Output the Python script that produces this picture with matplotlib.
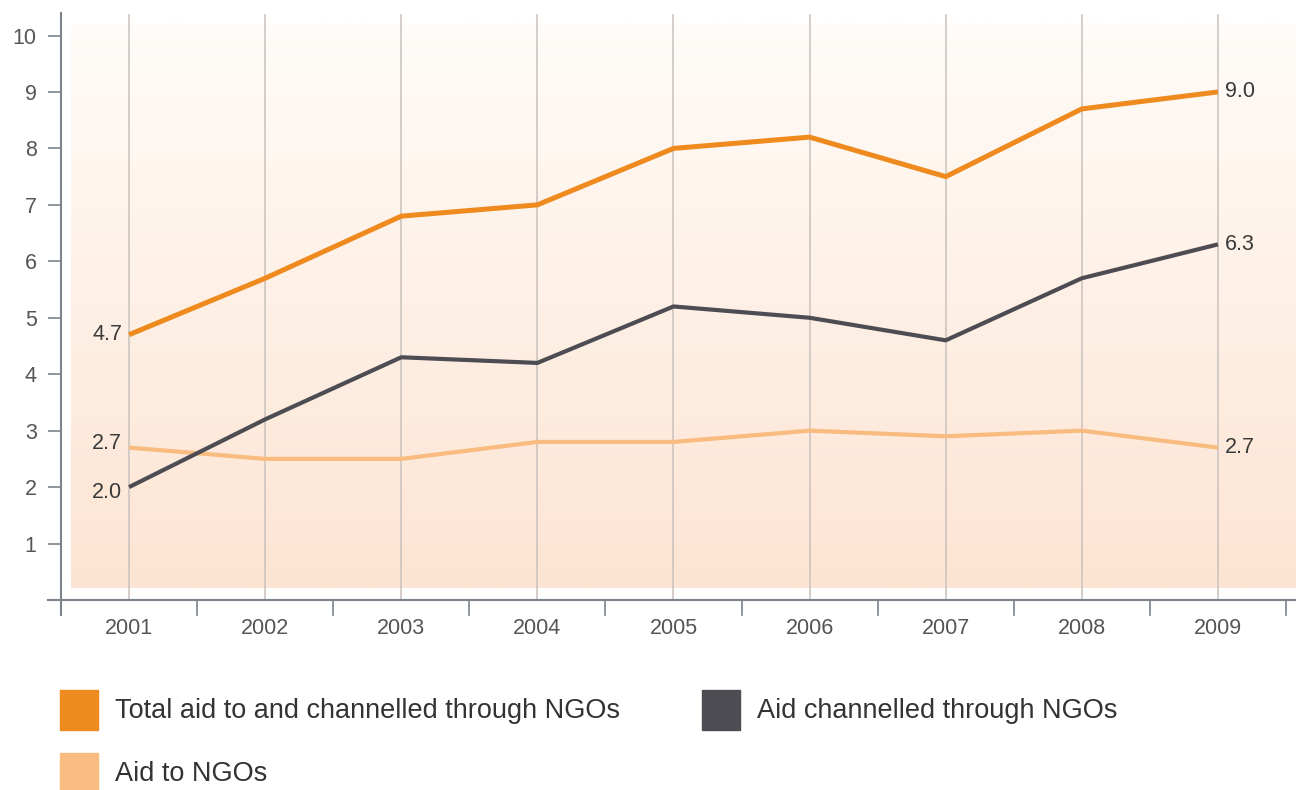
import numpy as np
import matplotlib.pyplot as plt
from matplotlib.patches import Rectangle

plt.rcParams["font.family"] = ["Liberation Sans", "DejaVu Sans"]

# ── Data ──────────────────────────────────────────────────────────────────────
years = [2001, 2002, 2003, 2004, 2005, 2006, 2007, 2008, 2009]
total_aid = [4.7, 5.7, 6.8, 7.0, 8.0, 8.2, 7.5, 8.7, 9.0]
channelled = [2.0, 3.2, 4.3, 4.2, 5.2, 5.0, 4.6, 5.7, 6.3]
aid_to_ngos = [2.7, 2.5, 2.5, 2.8, 2.8, 3.0, 2.9, 3.0, 2.7]
y_ticks = [1, 2, 3, 4, 5, 6, 7, 8, 9, 10]
series_names = ["Total aid to and channelled through NGOs",
                "Aid channelled through NGOs",
                "Aid to NGOs"]

C_TOTAL = "#ee8a1e"
C_CHAN = "#4d4c52"
C_AID = "#f8bb80"
C_AXIS = "#7b838c"
C_GRID = "#cdc5c0"
C_TEXT = "#3a3a3a"

W, H = 1296, 790
fig = plt.figure(figsize=(W / 100, H / 100), dpi=100)
ax = fig.add_axes([61 / W, (H - 600) / H, (W - 61) / W, (600 - 10) / H])

x0, x1 = 2000.5, 2001 + (W - 130) / 136
ylo, yhi = 0, 599.5 / 56.4 - 10 / 56.4
ax.set_xlim(x0, x1)
ax.set_ylim(ylo, yhi)

# gradient background
grad = np.linspace(0, 1, 256).reshape(-1, 1)
top = np.array([255, 252, 249]) / 255
bot = np.array([253, 228, 210]) / 255
img = top + (bot - top) * grad[..., None]
ax.imshow(img, extent=[2000.57, x1, 0.22, 10.22], aspect="auto",
          origin="upper", zorder=0)

# vertical grid lines
for yr in years:
    ax.plot([yr, yr], [0, 10.36], color=C_GRID, lw=1.2, zorder=1)

# ── Lines ─────────────────────────────────────────────────────────────────────
ax.plot(years, aid_to_ngos, color=C_AID, lw=3.0, zorder=3, solid_capstyle="butt")
ax.plot(years, channelled, color=C_CHAN, lw=3.0, zorder=4, solid_capstyle="butt")
ax.plot(years, total_aid, color=C_TOTAL, lw=3.6, zorder=5, solid_capstyle="butt")

# end labels
fs = 15.5
ax.text(years[0] - 0.05, total_aid[0], f"{total_aid[0]:.1f}", ha="right",
        va="center", fontsize=fs, color=C_TEXT)
ax.text(years[0] - 0.05, aid_to_ngos[0] + 0.07, f"{aid_to_ngos[0]:.1f}", ha="right",
        va="center", fontsize=fs, color=C_TEXT)
ax.text(years[0] - 0.05, channelled[0] - 0.1, f"{channelled[0]:.1f}", ha="right",
        va="center", fontsize=fs, color=C_TEXT)
for vals in (total_aid, channelled, aid_to_ngos):
    ax.text(years[-1] + 0.05, vals[-1], f"{vals[-1]:.1f}", ha="left",
            va="center", fontsize=fs, color=C_TEXT)

# ── Axes ──────────────────────────────────────────────────────────────────────
for s in ax.spines.values():
    s.set_visible(False)
ax.plot([x0 - 13 / 136, x1], [0, 0], color=C_AXIS, lw=1.5, clip_on=False, zorder=6)
ax.plot([x0, x0], [-15 / 56.4, 10.4], color=C_AXIS, lw=1.5, clip_on=False, zorder=6)

ax.set_yticks(y_ticks)
ax.set_yticklabels([str(t) for t in y_ticks])
ax.tick_params(axis="y", length=9.5, width=1.2, color=C_AXIS, labelsize=fs,
               labelcolor="#555555", pad=8)

ax.set_xticks(years)
ax.set_xticklabels([str(y) for y in years])
ax.tick_params(axis="x", length=0, labelsize=fs, labelcolor="#555555", pad=13)
for xt in np.arange(2001.5, 2010, 1.0):
    ax.plot([xt, xt], [0, -15 / 56.4], color=C_AXIS, lw=1.2, clip_on=False, zorder=6)

# ── Legend ────────────────────────────────────────────────────────────────────
legend_items = [
    (60, 690, C_TOTAL, series_names[0]),
    (702, 690, C_CHAN, series_names[1]),
    (60, 753, C_AID, series_names[2]),
]
for lx, ly, col, name in legend_items:
    fig.patches.append(Rectangle((lx / W, 1 - (ly + 40) / H), 38 / W, 40 / H,
                                 transform=fig.transFigure, color=col))
    fig.text((lx + 55) / W, 1 - (ly + 21) / H, name, fontsize=19.5,
             color="#333333", va="center", ha="left")

fig.savefig("out.png", dpi=100)
